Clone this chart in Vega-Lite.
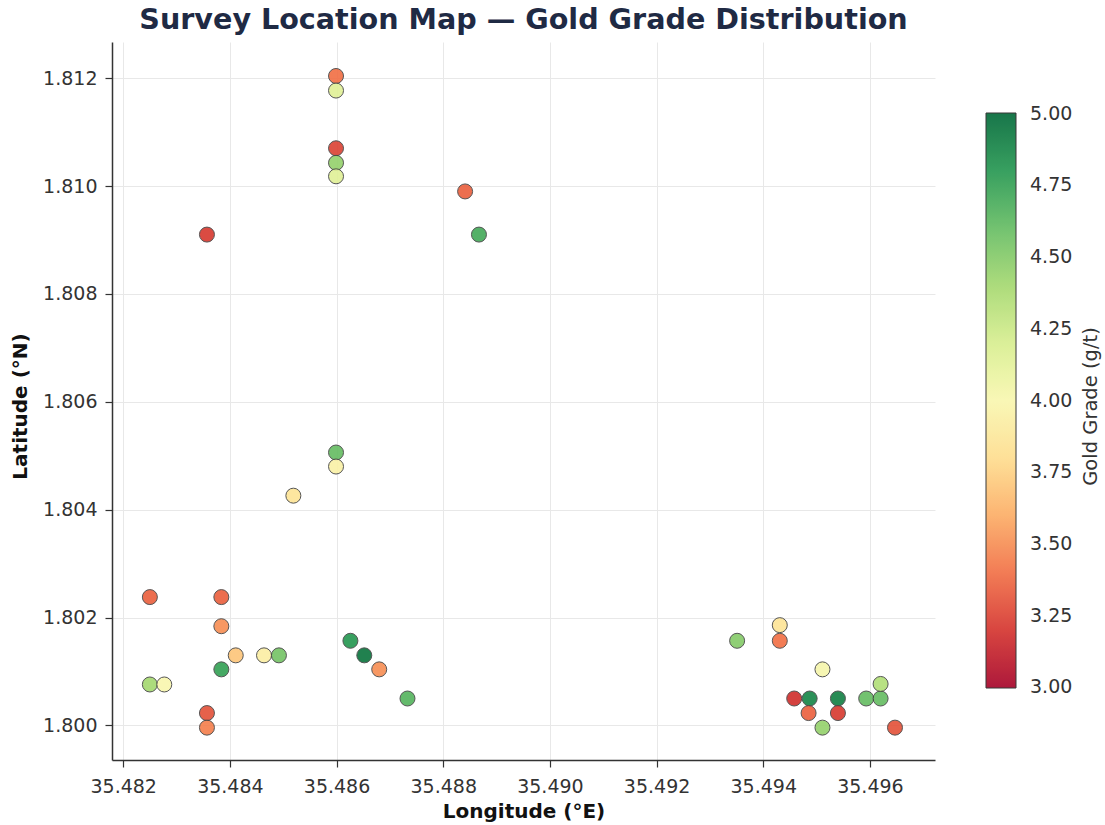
{
  "$schema": "https://vega.github.io/schema/vega-lite/v6.json",
  "width": 823,
  "height": 718,
  "autosize": {"type": "none"},
  "padding": {"left": 112, "top": 42, "right": 170, "bottom": 65},
  "background": "white",
  "title": {
    "text": "Survey Location Map — Gold Grade Distribution",
    "font": "DejaVu Sans",
    "fontSize": 28.6,
    "fontWeight": "bold",
    "color": "#1f2a44",
    "anchor": "middle",
    "offset": 7
  },
  "config": {
    "view": {"stroke": null},
    "axis": {
      "labelFont": "DejaVu Sans",
      "labelFontSize": 19,
      "labelColor": "#333333",
      "titleFont": "DejaVu Sans",
      "titleFontSize": 20,
      "titleFontWeight": "bold",
      "titleColor": "#111111",
      "domainColor": "#333333",
      "domainWidth": 1.5,
      "tickColor": "#333333",
      "tickSize": 7,
      "tickWidth": 1.2,
      "gridColor": "#e8e8e8",
      "gridWidth": 1
    }
  },
  "data": {
    "values": [
      {"lon": 35.48599, "lat": 1.81204, "grade": 3.4},
      {"lon": 35.48599, "lat": 1.81177, "grade": 4.15},
      {"lon": 35.48599, "lat": 1.81070, "grade": 3.25},
      {"lon": 35.48599, "lat": 1.81043, "grade": 4.45},
      {"lon": 35.48599, "lat": 1.81018, "grade": 4.15},
      {"lon": 35.48841, "lat": 1.80990, "grade": 3.35},
      {"lon": 35.48357, "lat": 1.80910, "grade": 3.22},
      {"lon": 35.48867, "lat": 1.80910, "grade": 4.7},
      {"lon": 35.48599, "lat": 1.80506, "grade": 4.6},
      {"lon": 35.48599, "lat": 1.80480, "grade": 3.95},
      {"lon": 35.48519, "lat": 1.80426, "grade": 3.85},
      {"lon": 35.48250, "lat": 1.80238, "grade": 3.35},
      {"lon": 35.48384, "lat": 1.80238, "grade": 3.35},
      {"lon": 35.48384, "lat": 1.80184, "grade": 3.5},
      {"lon": 35.48411, "lat": 1.80130, "grade": 3.7},
      {"lon": 35.48464, "lat": 1.80130, "grade": 3.93},
      {"lon": 35.48492, "lat": 1.80130, "grade": 4.55},
      {"lon": 35.48384, "lat": 1.80104, "grade": 4.75},
      {"lon": 35.48250, "lat": 1.80076, "grade": 4.4},
      {"lon": 35.48277, "lat": 1.80076, "grade": 4.0},
      {"lon": 35.48357, "lat": 1.80023, "grade": 3.3},
      {"lon": 35.48357, "lat": 1.79996, "grade": 3.45},
      {"lon": 35.48626, "lat": 1.80157, "grade": 4.8},
      {"lon": 35.48652, "lat": 1.80130, "grade": 4.95},
      {"lon": 35.48680, "lat": 1.80104, "grade": 3.5},
      {"lon": 35.48733, "lat": 1.80050, "grade": 4.65},
      {"lon": 35.49351, "lat": 1.80157, "grade": 4.5},
      {"lon": 35.49431, "lat": 1.80186, "grade": 3.85},
      {"lon": 35.49431, "lat": 1.80157, "grade": 3.4},
      {"lon": 35.49511, "lat": 1.80104, "grade": 4.02},
      {"lon": 35.49458, "lat": 1.80050, "grade": 3.18},
      {"lon": 35.49487, "lat": 1.80050, "grade": 4.88},
      {"lon": 35.49485, "lat": 1.80023, "grade": 3.35},
      {"lon": 35.49540, "lat": 1.80050, "grade": 4.9},
      {"lon": 35.49540, "lat": 1.80023, "grade": 3.22},
      {"lon": 35.49511, "lat": 1.79996, "grade": 4.45},
      {"lon": 35.49593, "lat": 1.80050, "grade": 4.6},
      {"lon": 35.49620, "lat": 1.80050, "grade": 4.6},
      {"lon": 35.49620, "lat": 1.80077, "grade": 4.35},
      {"lon": 35.49647, "lat": 1.79996, "grade": 3.3}
    ]
  },
  "encoding": {
    "x": {
      "field": "lon",
      "type": "quantitative",
      "scale": {"domain": [35.48179, 35.49722], "nice": false, "zero": false},
      "axis": {
        "title": "Longitude (°E)",
        "values": [35.482, 35.484, 35.486, 35.488, 35.490, 35.492, 35.494, 35.496],
        "format": ".3f",
        "labelPadding": 10,
        "titleY": 41,
        "labelFlush": false
      }
    }
  },
  "layer": [
    {
      "mark": {"type": "circle", "size": 225, "opacity": 0.9, "stroke": "#444444", "strokeWidth": 1},
      "encoding": {
        "y": {
          "field": "lat",
          "type": "quantitative",
          "scale": {"domain": [1.79936, 1.81267], "nice": false, "zero": false},
          "axis": {
            "title": "Latitude (°N)",
            "values": [1.800, 1.802, 1.804, 1.806, 1.808, 1.810, 1.812],
            "format": ".3f",
            "labelPadding": 8,
            "titleX": -82,
            "titleY": 364,
            "labelFlush": false
          }
        },
        "color": {
          "field": "grade",
          "type": "quantitative",
          "scale": {"scheme": "redyellowgreen", "domain": [2.998, 5.002]},
          "legend": {
            "orient": "none",
            "legendX": 874,
            "legendY": 71,
            "padding": 0,
            "direction": "vertical",
            "gradientLength": 575,
            "gradientThickness": 30,
            "gradientStrokeColor": "#222222",
            "gradientStrokeWidth": 1,
            "values": [3, 3.25, 3.5, 3.75, 4, 4.25, 4.5, 4.75, 5],
            "format": ".2f",
            "labelOverlap": false,
            "labelFont": "DejaVu Sans",
            "labelFontSize": 19,
            "labelColor": "#333333",
            "labelOffset": 14,
            "title": null
          }
        }
      }
    },
    {
      "mark": {"type": "circle", "size": 225, "opacity": 0},
      "encoding": {
        "y": {
          "field": "lat",
          "type": "quantitative",
          "scale": {"domain": [1.79936, 1.81267], "nice": false, "zero": false},
          "axis": {
            "orient": "right",
            "title": "Gold Grade (g/t)",
            "domain": false,
            "ticks": false,
            "labels": false,
            "grid": false,
            "titleFont": "DejaVu Sans",
            "titleFontSize": 19.5,
            "titleFontWeight": "normal",
            "titleColor": "#333333",
            "titleAngle": 270,
            "titleAlign": "center",
            "titleBaseline": "top",
            "titleX": 146,
            "titleY": 364
          }
        }
      }
    }
  ],
  "resolve": {"scale": {"y": "independent"}, "axis": {"y": "independent"}}
}
